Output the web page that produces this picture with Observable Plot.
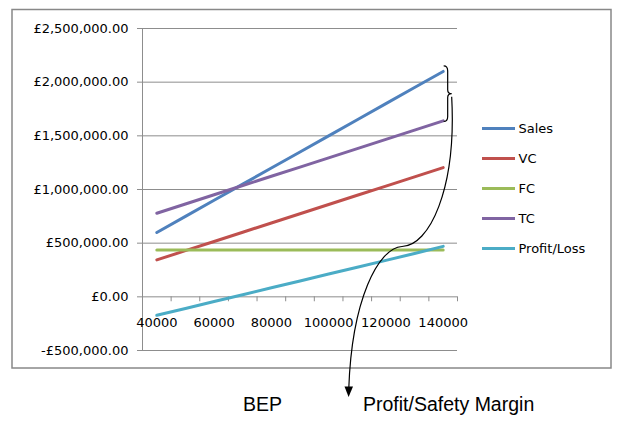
<!DOCTYPE html>
<html>
<head>
<meta charset="utf-8">
<script src="https://cdn.jsdelivr.net/npm/d3@7"></script>
<script src="https://cdn.jsdelivr.net/npm/@observablehq/plot@0.6"></script>
<style>
  html, body { margin: 0; padding: 0; background: #fff; }
</style>
</head>
<body>
<div id="chart"></div>
<script>
// ---- data ----
const units = [40000, 50000, 60000, 70000, 80000, 90000, 100000, 110000, 120000, 130000, 140000];
const sales = [600000, 750000, 900000, 1050000, 1200000, 1350000, 1500000, 1650000, 1800000, 1950000, 2100000];
const vc = [344000, 430000, 516000, 602000, 688000, 774000, 860000, 946000, 1032000, 1118000, 1204000];
const fc = [437000, 437000, 437000, 437000, 437000, 437000, 437000, 437000, 437000, 437000, 437000];
const tc = [779000, 865000, 951000, 1037000, 1123000, 1209000, 1295000, 1381000, 1467000, 1553000, 1639000];
const profit = [-172000, -108000, -44000, 20000, 84000, 148000, 212000, 276000, 340000, 404000, 470000];

const seriesNames = ["Sales", "VC", "FC", "TC", "Profit/Loss"];
const seriesValues = [sales, vc, fc, tc, profit];
const seriesColors = ["#4F81BD", "#C0504D", "#9BBB59", "#8064A2", "#4BACC6"];

const yTicks = [-500000, 0, 500000, 1000000, 1500000, 2000000, 2500000];
const xLabels = [40000, 60000, 80000, 100000, 120000, 140000];
const xBounds = [35000, 45000, 55000, 65000, 75000, 85000, 95000, 105000, 115000, 125000, 135000, 145000];
const annotations = ["BEP", "Profit/Safety Margin"];

(function () {
  const rows = [];
  seriesNames.forEach((name, i) => {
    units.forEach((u, j) => rows.push({series: name, units: u, value: seriesValues[i][j]}));
  });

  const gridColor = "#8d8d8d";
  const money = d => (d < 0 ? "-" : "") + "£" + d3.format(",.2f")(Math.abs(d));

  const plot = Plot.plot({
    width: 621,
    height: 422,
    marginLeft: 142,
    marginRight: 164,
    marginTop: 28,
    marginBottom: 72,
    x: {domain: [35000, 145000], axis: null},
    y: {domain: [-500000, 2500000], axis: null, label: null},
    style: {fontFamily: "DejaVu Sans", fontSize: "13px", background: "#fff", color: "#000", overflow: "visible"},
    marks: [
      Plot.gridY(yTicks, {stroke: gridColor, strokeOpacity: 1}),
      Plot.ruleX([35000], {stroke: gridColor}),
      Plot.axisY(yTicks, {tickSize: 5, tickPadding: 9, tickFormat: money, stroke: gridColor, fill: "#000", label: null, fontSize: 13}),
      Plot.ruleX(xBounds, {x: d => d, y1: 0, y2: -46000, stroke: gridColor}),
      Plot.text(xLabels, {x: d => d, y: 0, dy: 26, text: d => String(d), fill: "#000", fontSize: 13}),
      ...seriesNames.map((name, i) =>
        Plot.lineY(rows.filter(r => r.series === name), {
          x: "units", y: "value", stroke: seriesColors[i], strokeWidth: 3, strokeLinecap: "round"
        })
      )
    ]
  });

  document.getElementById("chart").appendChild(plot);

  const svg = d3.select(plot);
  const xs = plot.scale("x"), ys = plot.scale("y");

  // outer chart frame
  svg.insert("rect", ":first-child")
    .attr("x", 12).attr("y", 9.5).attr("width", 599).attr("height", 358.5)
    .attr("fill", "none").attr("stroke", "#888").attr("stroke-width", 1.5);

  // legend
  const lg = svg.append("g").attr("text-anchor", "start");
  seriesNames.forEach((name, i) => {
    const yy = 128.5 + 30 * i;
    lg.append("line").attr("x1", 482).attr("x2", 515).attr("y1", yy).attr("y2", yy)
      .attr("stroke", seriesColors[i]).attr("stroke-width", 3);
    lg.append("text").attr("x", 518.5).attr("y", yy).attr("dy", "0.36em")
      .attr("font-family", "DejaVu Sans").attr("font-size", 13).attr("fill", "#000").text(name);
  });

  // brace spanning sales and TC at the last category
  const bx = xs.apply(140000) + 4;
  const bTop = ys.apply(sales[sales.length - 1]) - 5;
  const bBot = ys.apply(tc[tc.length - 1]) + 1;
  const bMid = (bTop + bBot) / 2;
  const ann = svg.append("g").attr("fill", "none").attr("stroke", "#000").attr("stroke-width", 1.2);
  ann.append("path").attr("d",
    `M${bx - 3},${bTop} Q${bx + 1},${bTop} ${bx + 1},${bTop + 5} L${bx + 1},${bMid - 4} Q${bx + 1},${bMid} ${bx + 5},${bMid}` +
    ` Q${bx + 1},${bMid} ${bx + 1},${bMid + 4} L${bx + 1},${bBot - 5} Q${bx + 1},${bBot} ${bx - 3},${bBot}`);

  // curved arrow from brace down to the label
  const sx = bx + 5, sy = bMid + 3;
  ann.append("path").attr("d",
    `M${sx},${sy} C${sx + 5},190 429,246 402,246.5 C378,248 352,300 348.8,388`);
  svg.append("path").attr("d", "M344.5,386.5 L353,386.5 L348.6,397 Z").attr("fill", "#000");

  // bottom labels
  const bl = svg.append("g").attr("text-anchor", "start")
    .attr("font-family", "Liberation Sans, Arial").attr("font-size", 19.5).attr("fill", "#000");
  bl.append("text").attr("x", 243).attr("y", 410.5).text(annotations[0]);
  bl.append("text").attr("x", 363).attr("y", 410.5).text(annotations[1]);
})();
</script>
</body>
</html>
